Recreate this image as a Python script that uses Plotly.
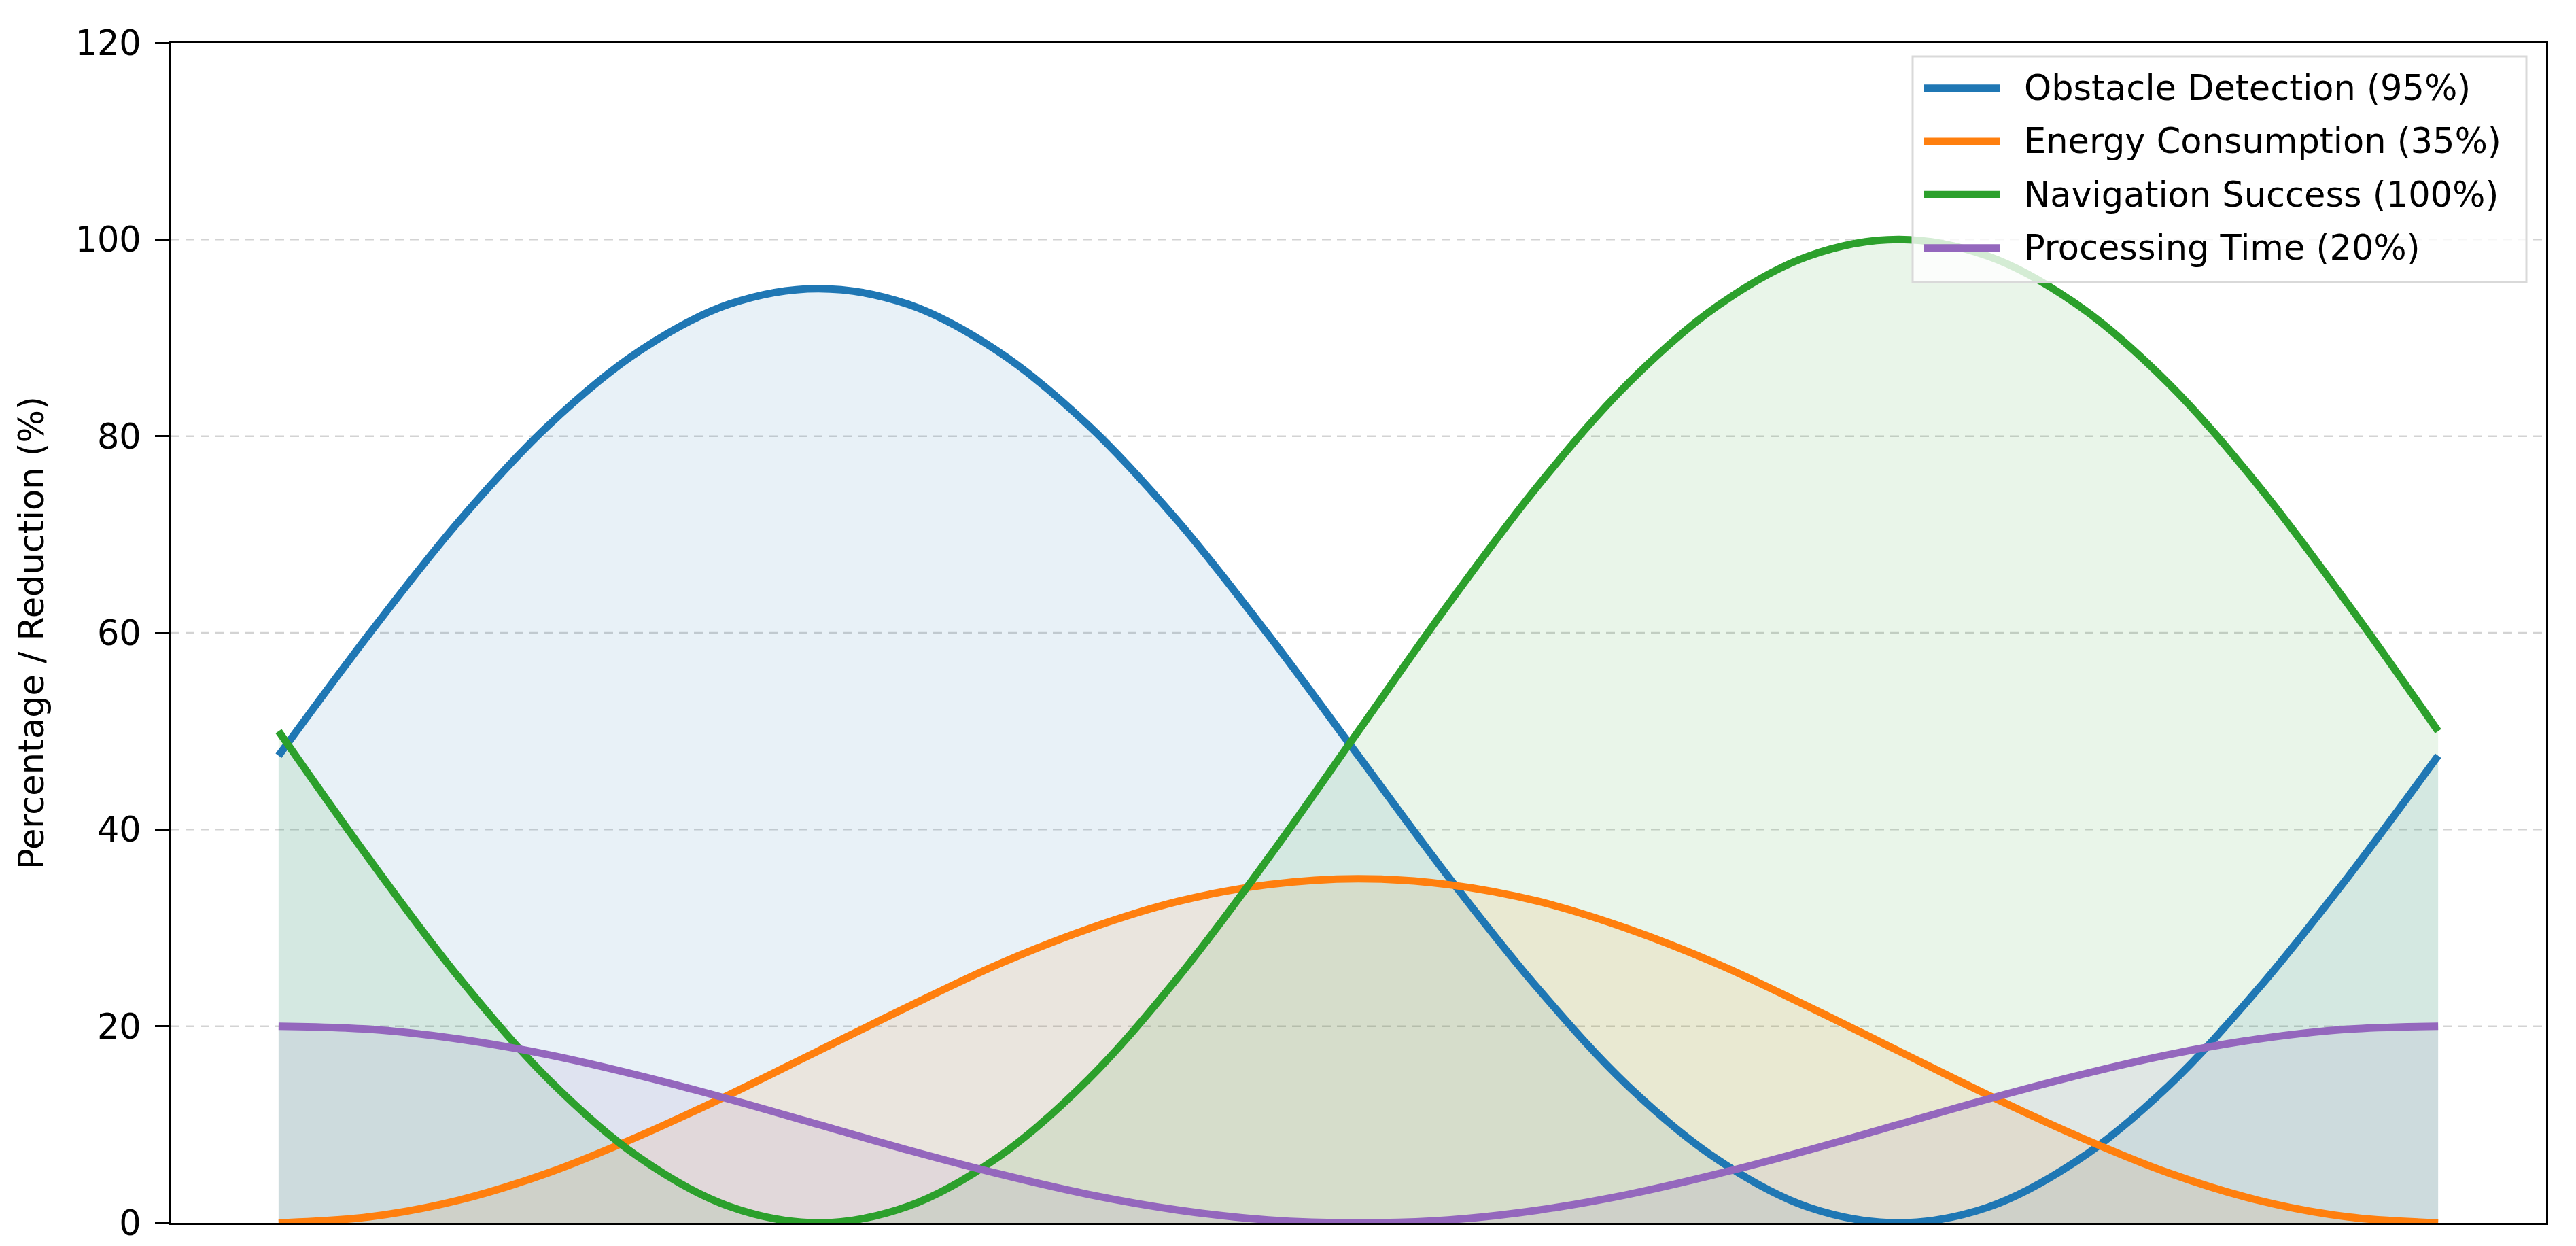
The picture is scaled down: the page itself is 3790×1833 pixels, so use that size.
import plotly.graph_objects as go

# phase positions (degrees) along the run
phase = [0, 15, 30, 45, 60, 75, 90, 105, 120, 135, 150, 165, 180,
         195, 210, 225, 240, 255, 270, 285, 300, 315, 330, 345, 360]

obstacle = [47.5, 59.8, 71.3, 81.1, 88.6, 93.4, 95.0, 93.4, 88.6, 81.1, 71.3, 59.8, 47.5,
            35.2, 23.8, 13.9, 6.4, 1.6, 0.0, 1.6, 6.4, 13.9, 23.8, 35.2, 47.5]
energy = [0.0, 0.6, 2.3, 5.1, 8.8, 13.0, 17.5, 22.0, 26.3, 29.9, 32.7, 34.4, 35.0,
          34.4, 32.7, 29.9, 26.3, 22.0, 17.5, 13.0, 8.8, 5.1, 2.3, 0.6, 0.0]
navigation = [50.0, 37.1, 25.0, 14.6, 6.7, 1.7, 0.0, 1.7, 6.7, 14.6, 25.0, 37.1, 50.0,
              62.9, 75.0, 85.4, 93.3, 98.3, 100.0, 98.3, 93.3, 85.4, 75.0, 62.9, 50.0]
processing = [20.0, 19.7, 18.7, 17.1, 15.0, 12.6, 10.0, 7.4, 5.0, 2.9, 1.3, 0.3, 0.0,
              0.3, 1.3, 2.9, 5.0, 7.4, 10.0, 12.6, 15.0, 17.1, 18.7, 19.7, 20.0]

names = ["Obstacle Detection (95%)", "Energy Consumption (35%)",
         "Navigation Success (100%)", "Processing Time (20%)"]
series = [obstacle, energy, navigation, processing]
colors = ["#1f77b4", "#ff7f0e", "#2ca02c", "#9467bd"]
fills = ["rgba(31,119,180,0.1)", "rgba(255,127,14,0.1)",
         "rgba(44,160,44,0.1)", "rgba(148,103,189,0.1)"]

y_ticks = [0, 20, 40, 60, 80, 100, 120]

W, H = 3790, 1833
L, R, T, B = 243, 3738, 55, 1791
FONT = "DejaVu Sans"
FS = 51

fig = go.Figure()
for ys, fc in zip(series, fills):
    fig.add_trace(go.Scatter(x=phase, y=ys, mode="lines", fill="tozeroy",
                             fillcolor=fc, line=dict(width=0, shape="spline"),
                             showlegend=False, hoverinfo="skip"))
for ys, c, n in zip(series, colors, names):
    fig.add_trace(go.Scatter(x=phase, y=ys, mode="lines", name=n,
                             line=dict(color=c, width=11, shape="spline"),
                             showlegend=False))

# gridlines
for v in y_ticks[1:-1]:
    fig.add_shape(type="line", xref="paper", yref="y", x0=0, x1=1, y0=v, y1=v,
                  line=dict(color="#d3d3d3", width=2.5, dash="13px,9px"), layer="below")


def px_x(p):
    return (p - L) / (R - L)


def px_y(p):
    return 1 - (p - T) / (B - T)


# legend (drawn manually to match layout)
fig.add_shape(type="rect", xref="paper", yref="paper",
              x0=px_x(2806), x1=px_x(3709), y0=px_y(407), y1=px_y(75),
              line=dict(color="#d9d9d9", width=3), fillcolor="rgba(255,255,255,0.8)")
row_y = [121.7, 200.0, 278.3, 356.7]
for ry, c, n in zip(row_y, colors, names):
    fig.add_shape(type="line", xref="paper", yref="paper",
                  x0=px_x(2822), x1=px_x(2934), y0=px_y(ry), y1=px_y(ry),
                  line=dict(color=c, width=11))
    fig.add_annotation(xref="paper", yref="paper", x=px_x(2968), y=px_y(ry),
                       text=n, showarrow=False, xanchor="left", yanchor="middle",
                       font=dict(family=FONT, size=FS, color="#000000"))

fig.update_layout(
    width=W, height=H,
    margin=dict(l=L, r=W - R, t=T, b=H - B, autoexpand=False),
    paper_bgcolor="white", plot_bgcolor="white",
    font=dict(family=FONT, size=FS, color="#000000"),
    showlegend=False,
)
fig.update_xaxes(range=[-18, 378], showticklabels=False, ticks="", showgrid=False,
                 zeroline=False, showline=True, linecolor="black", linewidth=3, mirror=True)
fig.update_yaxes(range=[0, 120], tickvals=y_ticks, ticks="outside", ticklen=20, tickwidth=3,
                 tickcolor="black", showgrid=False, zeroline=False, showline=True,
                 linecolor="black", linewidth=3, mirror=True,
                 tickfont=dict(family=FONT, size=FS), ticklabelstandoff=10,
                 title=dict(text="Percentage / Reduction (%)", standoff=30,
                            font=dict(family=FONT, size=FS)))

fig.write_html("out.html")
